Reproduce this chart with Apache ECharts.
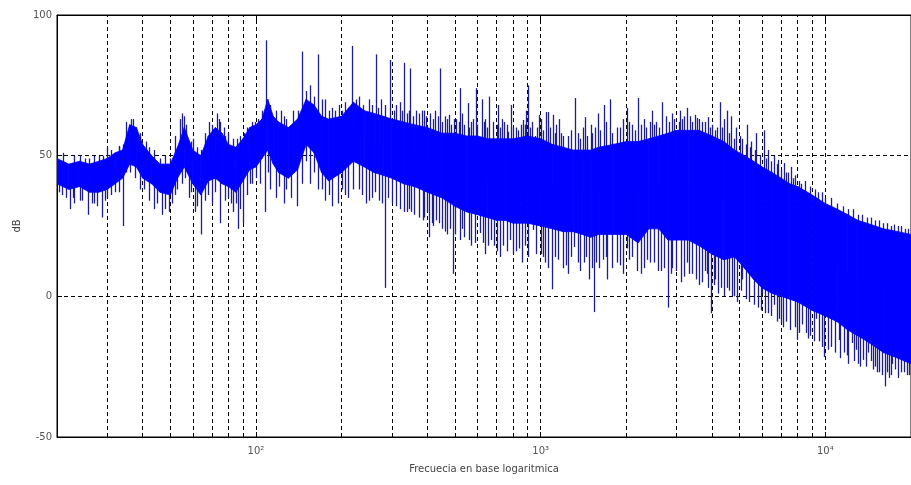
<!DOCTYPE html>
<html><head><meta charset="utf-8">
<script src="https://cdn.jsdelivr.net/npm/echarts@6/dist/echarts.min.js"></script>
<style>html,body{margin:0;padding:0;background:#fff}#c{width:911px;height:485px}</style>
</head><body><div id="c"></div>
<script>
// ---- data (frequency in Hz, level in dB) ----
const bandFreq = [20,22,24,26,28,30,32,34,36,38,40,43,46,50,53,56,60,64,68,72,76,80,85,90,95,100,105,110,115,120,130,140,150,160,170,180,200,220,240,260,280,300,330,360,400,450,500,550,600,650,700,750,800,900,1000,1100,1200,1300,1400,1500,1600,1800,2000,2200,2400,2600,2800,3000,3300,3600,4000,4400,4800,5200,5600,6000,6500,7000,7500,8000,9000,10000,11000,12000,13000,14000,15000,16000,17000,18000,20000];
const bandTop = [49,47,48,47,48,49,51,52,61,60,54,50,47,47,53,60,52,50,57,60,58,54,53,56,60,61,63,70,64,62,60,63,70,68,64,63,64,69,66,65,64,63,62,61,60,58,58,57,57,56,56,56,56,57,56,54,53,52,52,52,53,54,55,55,56,57,58,59,59,59,57,55,52,50,48,46,44,42,40,39,36,33,31,29,27,26,25,24,23.5,23,22];
const bandBottom = [40,38,39,37,37,38,40,42,47,46,42,40,37,36,42,46,40,36,41,42,40,39,37,41,45,46,49,52,47,44,42,45,54,51,44,41,44,48,46,44,43,42,40,39,37,35,32,30,29,28,27,27,26,26,25,24,23,23,22,21,22,22,22,19,24,24,20,20,20,18,15,13,14,10,6,3,1,0,-1,-2,-5,-7,-9,-12,-14,-16,-18,-20,-21,-22,-24];

// tall isolated peaks and the upper edge of the trace
const upFreq = [21,23,25,27,29,30,31,32.9,33,35,36.5,37,39,41,44,48,52,54,55,57,59,62,66,68.6,70,72.8,74,77,78,83,88,93,97,102,108.7,112,122,128,135,145,155,165,170,174.5,185,195,205,218,230,250,263,275,296,310,320,332,345,348,375,383,389,410,425,442,460,476,495,505,520,530,554,570,591,620,640,661,680,710,730,760,770,789,820,850,868,889,904,930,956,987,1003,1044,1061,1080,1105,1131,1159,1180,1250,1318,1350,1405,1428,1460,1498,1550,1585,1663,1700,1759,1850,1950,2016,2100,2202,2300,2424,2464,2550,2670,2750,2900,3085,3150,3262,3350,3478,3535,3700,3862,4000,4150,4251,4400,4497,4681,4873,5000,5322,5500,5720,6099,6300,6600,6825,7000,7161,7400,7575,7800,8077,8500,9200,9700,10500,11500,12500,13500,14500,15500,16500,17500,18500,19500];
const upPeak = [51,50,49,50,50,53,52,53.5,53,62,63,63,58,55,52,50,57,63,65,61,55,53,58,62,61,65,63,60,57,56,57,60,62,63,91,68,66,63,66,87,75,86,70,70,67,68,69,89,71,70,86,70,84,68,69,83,66,81,65,66,66,65,66,81,64,64.5,63,63,74,65,68.7,62,74,70,63,71,62,68,63,61,58.5,68,60,61,62.7,66,75,62,57,64.5,63,65.5,65.5,60,64.5,61,63,58,57,70.5,58,60,63.7,57,61,60,65,68,62,70,60,63,67,61,70.5,63,62,66,62,69,64,65,66,63,67,64,64.5,63.4,62,63.7,61,60,69,63,66,64,60,57,61,55,58,59,52,50,48.5,45,47.4,44,46,43,41,41,38,37,35,32,31,29,28,27,26,25.5,25,24];
const upEdgeFreq = [24,26,28,34,38,42,46,50,56,60,64,75,80,86,91,99,105,118,125,140,150,160,180,190,200,210,225,238,255,268,285,305,325,340,355,365,395,418,435,450,470,485,515,540,560,580,600,630,650,700,720,745,800,835,880,920,970,1020,1120,1200,1280,1380,1520,1620,1780,1900,2050,2150,2250,2350,2500,2600,2820,2950,3050,3200,3400,3600,3780,3950,4100,4320,4600,4780,5100,5250,5450,5650,5900,6200,6450,6750,7300,7700,8200,8800,9400,10000,11000,12000,13000,14000,15000,16000,17000,18000,19000];
const upEdgePeak = [50,49,50,54,60,53,49,49,64,56,52,62,58,56,58,62,66,66,64,66,73,71,66,66,66,67,70,68,68,67,68,66,66,65,64,66,64,63,64,62,63,61,62,61,60,63,61,62,60,61,60,62,60,59,61,60,60,59,58,57,59,56,58,59,58,60,62,59,61,60,61,60,62,63,62,64,62,63,62,60,59,60,58,56,56,54,53,52,50,49,48,47,44,42,40,39,37,35,33,31,29,28,27,26,25,25,24];

// deep isolated dips and the lower edge of the trace
const downFreq = [20.8,21.5,22.2,23,24,25.6,26.5,27.6,28.7,29.5,31,33,34.2,37.5,39,42,44,46.8,48,49.5,52,55,58,61,64,66,70,75,78,81.4,83,86.8,88,90.4,93,97,103,107.8,112,117.8,125,133,139.4,155,165,175,185,193.7,205,230,244,255,270,284.6,300,320,340,350,375,390,405,420,440,470,491,520,530,570,610,640,670,688,720,739,780,820,860,880,941,960,1019,1060,1096,1150,1197,1250,1307,1350,1439,1480,1535,1600,1650,1717,1850,1950,2016,2100,2250,2367,2500,2650,2801,2900,3100,3262,3400,3600,3771,3832,3957,4100,4300,4424,4600,4795,5073,5112,5400,5800,6002,6300,6600,6880,6985,7300,7800,7948,8300,8546,8800,9259,9500,9872,10500,11130,11600,12000,12360,12800,13200,13610,14170,14500,14980,15500,16230,16800,17200,17590,18500,19300];
const downDip = [36,35,31,33,34,29,33,32,28,34,36,37,25,42,38,34,31,29,31,30,36,40,35,30,22,34,33,26,34,33,30,24,31,26,36,40,40,30,38,35,33,35,32,40,38,34,32,33,36,38,33,35,34,3,33,31,30,30,28,28,21,25,26,22,8,20,24,18,22.5,15,20,18,14,18,20,16,12,18,23.6,15,14,10,2.5,13,10,8,17.5,12,14,6,-5.6,10,13,6,12,8,17,14,8,13,12,9,-4,10,5,12,8,4,9,8,-6,6,3,0,2,0,2,6,-2,-4,1,-6,-3,-8,-9.5,-9,-11,-15.5,-10,-13,-14,-8,-16,-21.6,-18,-15.5,-20,-24,-16.6,-19,-25,-22.6,-20,-23,-25,-27,-32,-29,-24,-26,-27,-28];
const downEdgeFreq = [20.3,22.8,24.5,27,30,32,35,36,40.5,45,50.5,53,56.5,59,62,68,72,80,85,95,100,110,120,128,145,150,160,170,180,200,210,220,235,250,262,278,292,310,330,345,360,385,398,415,430,450,460,480,500,540,560,590,625,655,700,760,800,840,900,1000,1040,1120,1230,1280,1380,1420,1520,1560,1700,1780,1900,2050,2180,2300,2430,2580,2720,2860,3000,3180,3330,3500,3700,3880,4050,4200,4500,4700,4900,5250,5600,5950,6150,6450,6750,7100,7500,8100,8700,9100,9700,10200,10800,11300,11900,12600,13000,13900,14700,15200,15800,16500,17000,18000,18900,19700];
const downEdgeDip = [37,35,34,33,35,37,44,44,38,33,33,38,42,37,32,36,37,35,33,40,42,44,39,38,40,48,44,38,36,38,35,38,36,34,37,33,35,32,30,31,29,27,30,26,27,24,23,24,22,21,20,19,19,18,16,16,15,17,14,15,12,14,11,14,9,12,10,12,14,10,11,13,9,10,12,9,10,8,9,7,8,6,5,3,4,1,3,0,-2,-1,-3,-5,-6,-7,-9,-11,-12,-13,-15,-16,-18,-19,-20,-22,-21,-23,-24,-25,-26,-27,-28,-27,-28,-29,-27,-28];

const gridFreqs = [30,40,50,60,70,80,90,100,200,300,400,500,600,700,800,900,1000,2000,3000,4000,5000,6000,7000,8000,9000,10000];
const decadeLabels = {100:'10\u00B2',1000:'10\u00B3',10000:'10\u2074'};
const yMin = -50, yMax = 100, yStep = 50;
const xMin = 20, xMax = 20000;
const xTitle = 'Frecuecia en base logaritmica';
const yTitle = 'dB';

// ---- build series data ----
const bandData = [];
for (let i = 0; i < bandFreq.length - 1; i++) {
  bandData.push([bandFreq[i], bandTop[i], bandBottom[i], bandFreq[i+1], bandTop[i+1], bandBottom[i+1]]);
}
function nearestMid(f) {
  let best = 0, bd = Infinity;
  for (let i = 0; i < bandFreq.length; i++) {
    const d = Math.abs(Math.log(bandFreq[i]) - Math.log(f));
    if (d < bd) { bd = d; best = i; }
  }
  return (bandTop[best] + bandBottom[best]) / 2;
}
const spikeData = [];
function addSpikes(fs, vs) { fs.forEach((f, i) => spikeData.push([f, vs[i], nearestMid(f)])); }
addSpikes(upFreq, upPeak);
addSpikes(upEdgeFreq, upEdgePeak);
addSpikes(downFreq, downDip);
addSpikes(downEdgeFreq, downEdgeDip);

const chart = echarts.init(document.getElementById('c'), null, {renderer: 'canvas'});
const font = 'DejaVu Sans';
chart.setOption({
  animation: false,
  backgroundColor: '#fff',
  grid: {left: 57, top: 15, width: 861, height: 422, show: true, borderColor: '#000', borderWidth: 1, backgroundColor: 'transparent'},
  xAxis: [{
    type: 'log', logBase: 10, min: xMin, max: xMax, splitNumber: 3,
    name: xTitle, nameLocation: 'middle', nameGap: 27,
    nameTextStyle: {color: '#444', fontFamily: font, fontSize: 10},
    axisLine: {show: true, onZero: false, lineStyle: {color: '#000', width: 1}},
    axisTick: {show: true, inside: true, length: 5, lineStyle: {color: '#000'}},
    axisLabel: {color: '#555', fontFamily: font, fontSize: 10, margin: 9,
      showMinLabel: false, showMaxLabel: false,
      formatter: v => decadeLabels[Math.round(v)] || ''},
    splitLine: {show: false}
  }, {
    type: 'log', logBase: 10, min: xMin, max: xMax, splitNumber: 3, position: 'top',
    axisLine: {show: true, onZero: false, lineStyle: {color: '#000', width: 1}},
    axisTick: {show: true, inside: true, length: 5, lineStyle: {color: '#000'}},
    axisLabel: {show: false}, splitLine: {show: false}
  }],
  yAxis: {
    type: 'value', min: yMin, max: yMax, interval: yStep,
    name: yTitle, nameLocation: 'middle', nameGap: 33, nameRotate: 90,
    nameTextStyle: {color: '#444', fontFamily: font, fontSize: 10},
    axisLine: {show: true, onZero: false, lineStyle: {color: '#000', width: 1}},
    axisTick: {show: true, inside: true, length: 5, lineStyle: {color: '#000'}},
    axisLabel: {color: '#555', fontFamily: font, fontSize: 10, margin: 5},
    splitLine: {show: true, lineStyle: {color: '#000', type: [4, 3], width: 1}}
  },
  series: [
    {
      type: 'line', data: [], z: 1, silent: true,
      markLine: {
        silent: true, symbol: 'none', z: 1, animation: false,
        label: {show: false},
        lineStyle: {color: '#000', type: [4, 3], width: 1},
        data: gridFreqs.map(f => ({xAxis: f}))
      }
    },
    {
      type: 'custom', z: 2, silent: true, clip: true,
      data: spikeData,
      encode: {x: 0, y: [1, 2]},
      renderItem: function (params, api) {
        const p = api.coord([api.value(0), api.value(1)]);
        const q = api.coord([api.value(0), api.value(2)]);
        const x = Math.round(p[0]) + 0.5;
        return {type: 'line', shape: {x1: x, y1: p[1], x2: x, y2: q[1]},
          style: {stroke: '#1e1e8c', lineWidth: 1.3}};
      }
    },
    {
      type: 'custom', z: 3, silent: true, clip: true,
      data: bandData,
      encode: {x: [0, 3], y: [1, 2, 4, 5]},
      renderItem: function (params, api) {
        const a = api.coord([api.value(0), api.value(1)]);
        const b = api.coord([api.value(3), api.value(4)]);
        const c = api.coord([api.value(3), api.value(5)]);
        const d = api.coord([api.value(0), api.value(2)]);
        return {type: 'polygon', shape: {points: [a, b, c, d]},
          style: {fill: '#0000ff', stroke: '#0000ff', lineWidth: 0.8}};
      }
    }
  ]
});
</script></body></html>
